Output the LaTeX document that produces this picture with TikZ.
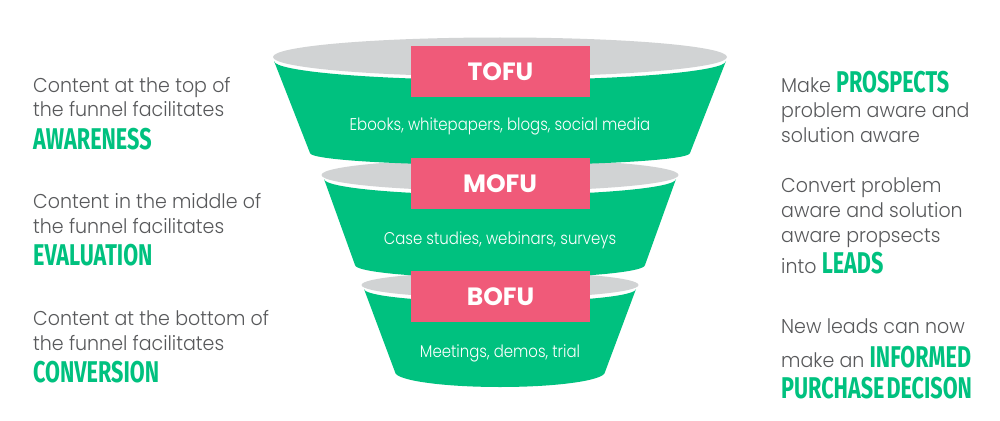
\documentclass[tikz,border=0pt]{standalone}
\usepackage{fontspec}
\newfontfamily\bodyf{Poppins Light}[FakeStretch=0.95]
\newfontfamily\innerf{Poppins Light}[FakeStretch=0.88]
\newfontfamily\headf{Poppins}
\newfontfamily\condf{Fira Sans}[FakeStretch=0.72]
\definecolor{fgreen}{HTML}{00C17F}
\definecolor{fpink}{HTML}{F05A79}
\definecolor{fgray}{HTML}{D1D3D4}
\definecolor{tgray}{HTML}{58595B}
\newcommand{\hlword}[1]{{\condf\bfseries\fontsize{30}{30}\selectfont\color{fgreen}#1}}
\begin{document}
\begin{tikzpicture}[x=1pt,y=-1pt,
  body/.style={font=\bodyf\fontsize{20}{24}\selectfont, text=tgray, anchor=base west, inner sep=0pt},
  emph/.style={font=\condf\bfseries\fontsize{30}{30}\selectfont, text=fgreen, anchor=base west, inner sep=0pt},
  stage/.style={fill=fpink, minimum width=179pt, minimum height=51pt, inner sep=0pt, text=white, font=\headf\bfseries\fontsize{25}{25}\selectfont},
  inner/.style={font=\innerf\fontsize{17}{20}\selectfont, text=white, anchor=base, inner sep=0pt}]
\useasboundingbox[fill=white] (0,0) rectangle (1000,420);

% BOFU
\fill[fgray] (500,285) ellipse[x radius=138.5, y radius=13];
\fill[fgreen] (364,289) arc[start angle=180,end angle=0,x radius=136,y radius=13]
  -- (605,372) arc[start angle=0,end angle=180,x radius=105,y radius=15] -- cycle;
% MOFU
\fill[fgray] (500,175) ellipse[x radius=178.5, y radius=16];
\fill[fgreen] (324,179) arc[start angle=180,end angle=0,x radius=176,y radius=16]
  -- (645,265) arc[start angle=0,end angle=180,x radius=145,y radius=13] -- cycle;
% TOFU
\fill[fgray] (500,57) ellipse[x radius=227, y radius=19.5];
\fill[fgreen] (274,61) arc[start angle=180,end angle=0,x radius=226,y radius=19]
  -- (690,153) arc[start angle=0,end angle=180,x radius=190,y radius=12] -- cycle;

\node[stage] (tofu) at (500.5,71.5) {TOFU};
\node[stage] (mofu) at (500,183.5) {MOFU};
\node[stage] (bofu) at (500.5,296.5) {BOFU};

\node[inner] (ttext) at (500,130) {Ebooks, whitepapers, blogs, social media};
\node[inner] (mtext) at (500,244) {Case studies, webinars, surveys};
\node[inner] (btext) at (500,357) {Meetings, demos, trial};

% left texts
\node[body] (l1a) at (33,92) {Content at the top of};
\node[body] (l1b) at (33,116) {the funnel facilitates};
\node[emph] (l1c) at (33,149) {AWARENESS};
\node[body] (l2a) at (33,208) {Content in the middle of};
\node[body] (l2b) at (33,233) {the funnel facilitates};
\node[emph] (l2c) at (33,265) {EVALUATION};
\node[body] (l3a) at (33,325) {Content at the bottom of};
\node[body] (l3b) at (33,350) {the funnel facilitates};
\node[emph] (l3c) at (33,382) {CONVERSION};

% right texts
\node[body] (r1a) at (781,92) {Make \hlword{PROSPECTS}};
\node[body] (r1b) at (781,117) {problem aware and};
\node[body] (r1c) at (781,142) {solution aware};
\node[body] (r2a) at (781,192) {Convert problem};
\node[body] (r2b) at (781,217) {aware and solution};
\node[body] (r2c) at (781,242) {aware propsects};
\node[body] (r2d) at (781,273) {into \hlword{LEADS}};
\node[body] (r3a) at (781,333) {New leads can now};
\node[body] (r3b) at (781,367) {make an \hlword{INFORMED}};
\node[emph] (r3c) at (781,398) {PURCHASE\hspace{2pt}DECISON};
\end{tikzpicture}
\end{document}
